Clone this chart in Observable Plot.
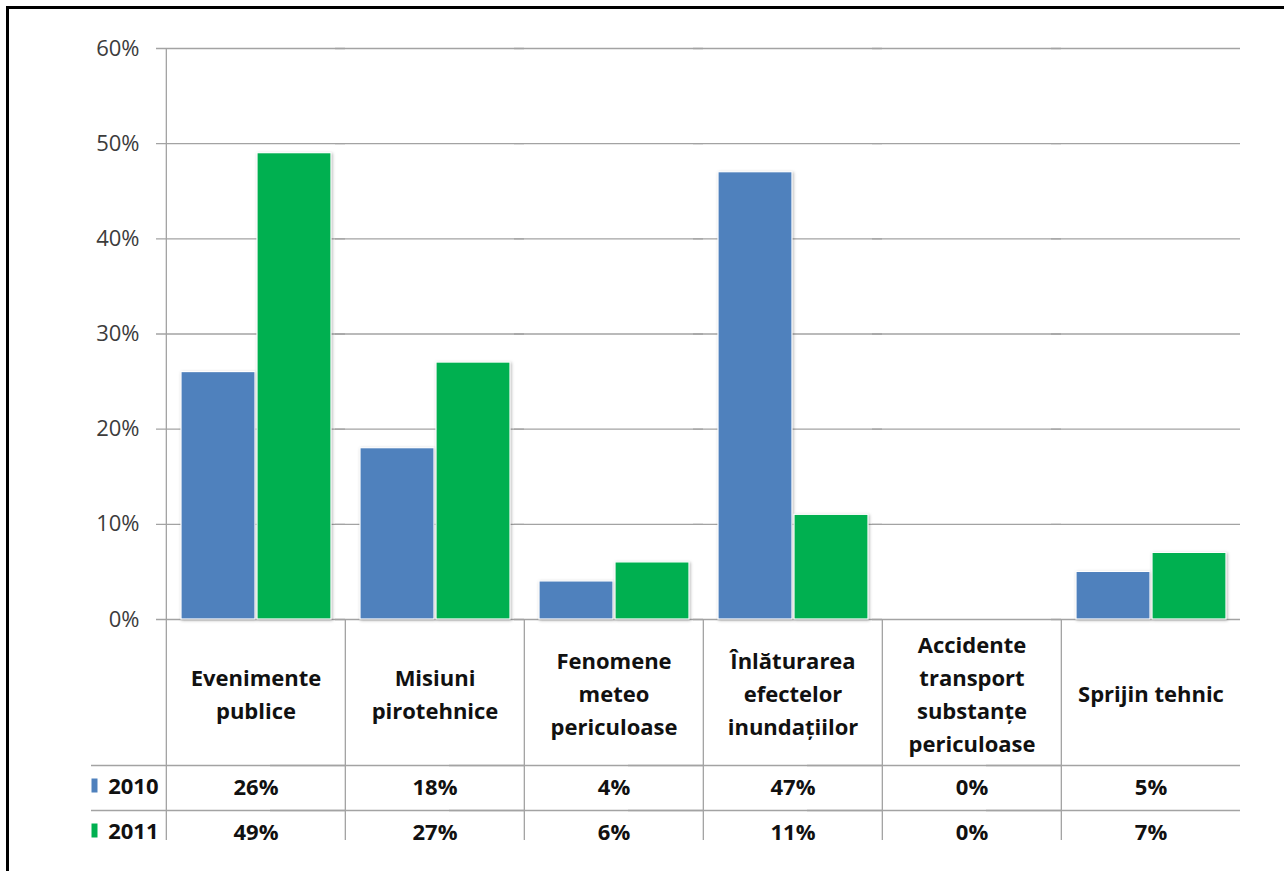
<!DOCTYPE html>
<html>
<head>
<meta charset="utf-8">
<script src="https://cdn.jsdelivr.net/npm/d3@7"></script>
<script src="https://cdn.jsdelivr.net/npm/@observablehq/plot@0.6"></script>
<style>
  html, body { margin: 0; padding: 0; background: #fff; }
  #wrap { position: relative; width: 1284px; height: 871px; overflow: hidden; background: #fff; }
  #border { position: absolute; left: 6px; top: 6px; width: 1300px; height: 900px;
            border-top: 3px solid #000; border-left: 3px solid #000; pointer-events: none; }
  g[aria-label="bar"] rect { filter: drop-shadow(1.5px 1.5px 1.5px rgba(0,0,0,0.28)); }
</style>
</head>
<body>
<div id="wrap"><div id="chart"></div><div id="border"></div></div>
<script>
// ---- data ----
const categories = [
  "Evenimente publice",
  "Misiuni pirotehnice",
  "Fenomene meteo periculoase",
  "Înlăturarea efectelor inundațiilor",
  "Accidente transport substanțe periculoase",
  "Sprijin tehnic"
];
const categoryLabels = [
  "Evenimente\npublice",
  "Misiuni\npirotehnice",
  "Fenomene\nmeteo\npericuloase",
  "Înlăturarea\nefectelor\ninundațiilor",
  "Accidente\ntransport\nsubstanțe\npericuloase",
  "Sprijin tehnic"
];
const years = ["2010", "2011"];
const values2010 = [26, 18, 4, 47, 0, 5];
const values2011 = [49, 27, 6, 11, 0, 7];
const yTicks = [0, 10, 20, 30, 40, 50, 60];
const colors = ["#4F81BD", "#00B050"];

const rows = categories.flatMap((c, i) => [
  {category: c, year: years[0], value: values2010[i]},
  {category: c, year: years[1], value: values2011[i]}
]);
const labelOf = new Map(categories.map((c, i) => [c, categoryLabels[i]]));

// ---- layout ----
const W = 1284, H = 871, mt = 48, mb = 252, ml = 165, mr = 43;
const fw = (W - ml - mr) / categories.length;
const frameH = H - mt - mb;
const tableDepth = 221;
const lineColor = "#a3a3a3";
const textColor = "#111";
const tableFont = 22;

const chart = Plot.plot({
  width: W, height: H,
  marginTop: mt, marginBottom: mb, marginLeft: ml, marginRight: mr,
  style: {fontFamily: "'Open Sans', sans-serif", fontSize: "22px", color: "#3c3c3c", background: "white"},
  fx: {domain: categories, padding: 0, axis: null},
  x: {domain: years, paddingInner: 0.03, paddingOuter: 0.18, axis: null},
  y: {domain: [0, 60], axis: null},
  color: {domain: years, range: colors},
  marks: [
    // gridlines (with tick stub to the left)
    Plot.ruleY(yTicks, {stroke: lineColor, strokeWidth: 1.3, insetLeft: -10}),
    // y axis line through the table
    Plot.ruleX([categories[0]], {fx: d => d, x: null, dx: -fw / 2, insetBottom: -tableDepth, stroke: lineColor, strokeWidth: 1.3}),
    // column separators in the table
    Plot.ruleX(categories.slice(1), {fx: d => d, x: null, dx: -fw / 2, insetTop: frameH, insetBottom: -tableDepth, stroke: lineColor, strokeWidth: 1.3}),
    // row separators
    Plot.ruleY([0], {dy: 146, insetLeft: -75, stroke: lineColor, strokeWidth: 1.3}),
    Plot.ruleY([0], {dy: 191, insetLeft: -75, stroke: lineColor, strokeWidth: 1.3}),
    // bars
    Plot.barY(rows.filter(d => d.value > 0), {fx: "category", x: "year", y: "value", fill: "year", stroke: "white", strokeWidth: 1.2}),
    // y axis
    Plot.axisY(yTicks, {tickSize: 0, tickPadding: 27, tickFormat: d => d + "%", fontSize: 22, label: null}),
    // table header
    Plot.text(categories, {fx: d => d, text: d => labelOf.get(d), frameAnchor: "bottom", dy: 72,
      lineAnchor: "middle", lineHeight: 1.5, fontWeight: "bold", fontSize: tableFont, fill: textColor}),
    // table values
    Plot.text(rows.filter(d => d.year === years[0]), {fx: "category", text: d => d.value + "%", frameAnchor: "bottom", dy: 168,
      lineAnchor: "middle", fontWeight: "bold", fontSize: tableFont, fill: textColor}),
    Plot.text(rows.filter(d => d.year === years[1]), {fx: "category", text: d => d.value + "%", frameAnchor: "bottom", dy: 213,
      lineAnchor: "middle", fontWeight: "bold", fontSize: tableFont, fill: textColor}),
    // row labels
    Plot.text([years[0]], {fx: () => categories[0], text: d => d, frameAnchor: "bottom-left", dx: -8, dy: 167,
      textAnchor: "end", lineAnchor: "middle", fontWeight: "bold", fontSize: 22, fill: textColor}),
    Plot.text([years[1]], {fx: () => categories[0], text: d => d, frameAnchor: "bottom-left", dx: -8, dy: 212,
      textAnchor: "end", lineAnchor: "middle", fontWeight: "bold", fontSize: 22, fill: textColor}),
    // legend keys
    Plot.dot([years[0]], {fx: () => categories[0], frameAnchor: "bottom-left", dx: -72, dy: 166, fill: d => d,
      symbol: {draw(ctx) { ctx.rect(-3, -7, 6, 14); }}}),
    Plot.dot([years[1]], {fx: () => categories[0], frameAnchor: "bottom-left", dx: -72, dy: 211, fill: d => d,
      symbol: {draw(ctx) { ctx.rect(-3, -7, 6, 14); }}})
  ]
});
document.getElementById("chart").appendChild(chart);
</script>
</body>
</html>
